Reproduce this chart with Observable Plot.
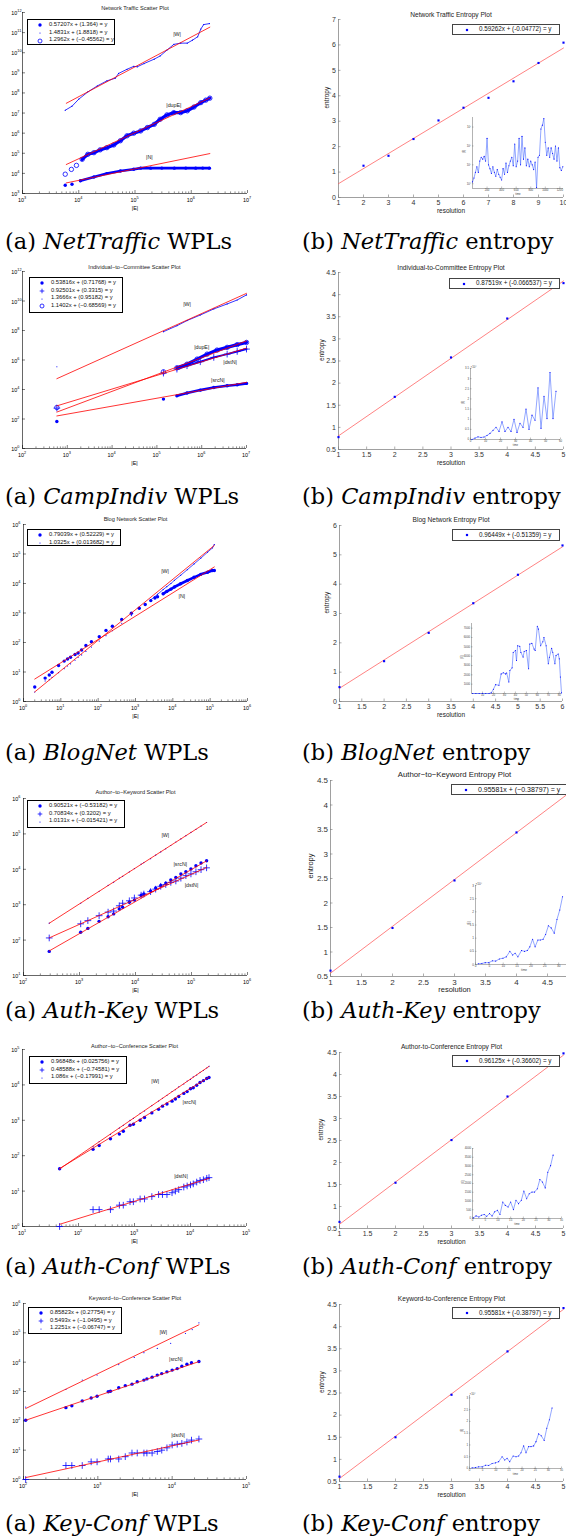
<!DOCTYPE html>
<html><head><meta charset="utf-8">
<script src="https://cdn.jsdelivr.net/npm/d3@7"></script>
<script src="https://cdn.jsdelivr.net/npm/@observablehq/plot@0.6"></script>
<style>
html,body{margin:0;padding:0;background:#fff;}
#root{position:relative;width:566px;height:1538px;overflow:hidden;font-family:"Liberation Sans",Arial,sans-serif;color:#000;background:#fff;}
.leg{position:absolute;background:#fff;box-sizing:border-box;}
.leg .row{position:absolute;white-space:nowrap;line-height:1;color:#111;}
.cap{position:absolute;font-family:"DejaVu Serif",serif;font-size:22.5px;white-space:nowrap;line-height:1;}
</style></head><body><div id="root"></div><script>
// ================= DATA =================
// ---- Row 1: NetTraffic ----
const ntW = [[5750,1.38e7],[7590,2.19e7],[1.0e4,4.9e7],[1.45e4,1.12e8],[2.14e4,2.24e8],[3.16e4,3.98e8],[4.47e4,5.4e8],[5.1e4,9.3e8],[7.2e4,1.5e9],[9.5e4,2.1e9],[1.1e5,2.0e9],[1.45e5,2.9e9],[2.2e5,4.8e9],[2.8e5,6.9e9],[3.7e5,1.35e10],[4.9e5,2.6e10],[6.5e5,3.0e10],[8.5e5,3.0e10],[1.05e6,4.2e10],[1.3e6,6.2e10],[1.48e6,1.5e11],[1.66e6,2.5e11],[2.1e6,2.8e11]];
const ntN = [[5750,2570],[7590,2880],[1.07e4,4270],[1.86e4,6610],[3.16e4,9770],[5.5e4,1.32e4],[9.5e4,1.62e4],[1.26e5,1.82e4],[1.9e5,1.82e4],[3.0e5,1.83e4],[5.0e5,1.82e4],[8.0e5,1.83e4],[1.2e6,1.82e4],[1.6e6,1.83e4],[2.1e6,1.82e4]];
const ntDupE = [[5750,9120],[7400,1.58e4],[9100,2.5e4],[1.15e4,5.0e4],[1.45e4,8.9e4],[1.86e4,1.07e5],[2.4e4,1.48e5],[3.16e4,1.9e5],[4.2e4,2.6e5],[5.5e4,4.2e5],[7.2e4,7.4e5],[9.5e4,1.0e6],[1.26e5,1.29e6],[1.66e5,1.9e6],[2.2e5,2.75e6],[2.8e5,4.9e6],[3.7e5,8.1e6],[4.9e5,1.05e7],[6.5e5,1.05e7],[8.5e5,1.29e7],[1.12e6,2.0e7],[1.48e6,3.3e7],[1.82e6,4.4e7],[2.14e6,5.5e7]];
const ntLabels = [[5.6e5,8.3e10,"|W|"],[4.9e5,2.45e7,"|dupE|"],[1.8e5,6.2e4,"|N|"]];
const ntFits = [[0.57207,1.364],[1.4831,1.8818],[1.2962,-0.45562]];
const ntFitRange = [6000,2.14e6];
const ntLegend = ["0.57207x + (1.364) = y","1.4831x + (1.8818) = y","1.2962x + (\u22120.45562) = y"];
const ntXTicks = [1e3,1e4,1e5,1e6,1e7];
const ntYTicks = [1e3,1e4,1e5,1e6,1e7,1e8,1e9,1e10,1e11,1e12];
const ntRes = [2,3,4,5,6,7,8,9,10];
const ntEnt = [1.25,1.64,2.30,3.03,3.53,3.92,4.57,5.29,6.09];
const ntEntFit = [0.59262,-0.04772];
const ntEntLegend = "0.59262x + (-0.04772) = y";
const ntEntXTicks = [1,2,3,4,5,6,7,8,9,10];
const ntEntYTicks = [0,1,2,3,4,5,6,7];
const ntInset = [1.26e4,2.0e4,4.0e4,7.9e4,4.0e4,1.58e5,2.5e5,2.0e5,2.8e5,1.58e5,2.5e6,1.0e5,6.3e4,3.5e4,7.9e4,4.0e4,2.5e4,5.6e4,3.2e4,2.2e4,1.58e4,6.3e4,3.2e4,1.26e5,4.0e4,8.9e4,1.58e5,2.5e5,8.9e4,1.26e6,7.9e4,1.58e5,2.5e6,1.0e5,3.2e6,2.0e5,7.9e5,8.9e4,2.0e5,7.9e4,1.58e5,1.0e5,5.6e4,1.41e5,6.3e3,2.5e5,3.2e5,7.9e6,1.26e7,2.8e7,1.58e6,3.2e5,7.9e5,2.5e5,7.9e5,4.0e5,2.0e5,1.0e6,1.58e5,7.9e5,7.1e4,5.0e4,7.9e4];
const ntInsetStep = 20;

// ---- Row 2: CampIndiv ----
const ciW = [[585,3.5e5],[1.4e5,8.3e7],[2.8e5,2.1e8],[4.7e5,4.7e8],[9.3e5,1.12e9],[1.86e6,2.9e9],[3.7e6,6.3e9],[6.2e6,1.17e10],[1.0e7,2.6e10]];
const ciDupE = [[585,600],[1.4e5,1.58e5],[2.8e5,2.95e5],[4.7e5,5.2e5],[7.9e5,1.15e6],[1.32e6,2.5e6],[2.2e6,4.7e6],[3.7e6,7.2e6],[6.2e6,1.1e7],[1.0e7,1.55e7]];
const ciDstN = [[585,550],[1.4e5,1.29e5],[2.8e5,2.4e5],[4.7e5,4.1e5],[9.3e5,7.6e5],[1.86e6,1.5e6],[3.7e6,2.5e6],[6.2e6,3.8e6],[1.0e7,5.5e6]];
const ciSrcN = [[585,68],[1.4e5,2240],[2.8e5,3700],[4.7e5,5750],[9.3e5,9100],[1.86e6,1.38e4],[3.7e6,1.78e4],[6.2e6,2.1e4],[1.0e7,2.6e4]];
const ciLabels = [[4.7e5,5.6e9,"|W|"],[1.0e6,7.6e6,"|dupE|"],[4.3e6,6.9e5,"|dstN|"],[2.3e6,4.4e4,"|srcN|"]];
const ciFits = [[0.53816,0.71768],[0.92501,0.3315],[1.3666,0.95182],[1.1402,-0.68569]];
const ciFitRange = [585,1.0e7];
const ciLegend = ["0.53816x + (0.71768) = y","0.92501x + (0.3315) = y","1.3666x + (0.95182) = y","1.1402x + (\u22120.68569) = y"];
const ciXTicks = [1e2,1e3,1e4,1e5,1e6,1e7];
const ciYTicks = [1e0,1e2,1e4,1e6,1e8,1e10,1e12];
const ciRes = [1,2,3,4,5];
const ciEnt = [0.78,1.69,2.58,3.46,4.26];
const ciEntFit = [0.87519,-0.066537];
const ciEntLegend = "0.87519x + (-0.066537) = y";
const halfTicks15 = [1,1.5,2,2.5,3,3.5,4,4.5,5];
const halfTicksY = [0.5,1,1.5,2,2.5,3,3.5,4,4.5];
const ciInset = [0,0.07,0.13,0.1,0.12,0.2,0.3,0.45,0.6,0.4,0.87,0.4,0.6,0.4,1.0,0.35,0.8,0.6,1.5,0.5,1.2,0.95,2.55,0.55,2.13,1.03,3.3,1.03,2.38];

// ---- Row 3: BlogNet ----
const bnN = [[2,3.1],[3.8,6.2],[4.9,7.9],[5.8,9.8],[8.7,16.6],[12.3,23.4],[15.1,27.5],[18.2,31.6],[24,39],[29,44],[36,56],[47,79],[66,107],[107,158],[162,257],[240,355],[427,603],[776,977],[1260,1450],[1820,1950],[2570,2630],[3310,3240],[3890,3550],[5500,4470],[6900,5400],[8900,6450],[1.1e4,7600],[1.62e4,9800],[2.45e4,1.26e4],[3.7e4,1.62e4],[5.6e4,2.04e4],[8.5e4,2.4e4],[1.15e5,2.75e4],[1.29e5,2.75e4]];
const bnW = [[2,2.1],[3.8,5.0],[4.9,5.5],[5.8,6.6],[8.7,9.5],[12.3,13],[15.1,16],[18.2,19],[24,25],[29,31],[36,38],[47,50],[66,70],[107,112],[162,170],[240,250],[427,450],[776,820],[1260,1350],[1820,1950],[2570,2800],[3310,3600],[3890,4300],[5500,6200],[6900,7800],[8900,1.0e4],[1.1e4,1.28e4],[1.62e4,1.9e4],[2.45e4,2.95e4],[3.7e4,4.6e4],[5.6e4,7.2e4],[8.5e4,1.15e5],[1.15e5,1.6e5],[1.29e5,2.1e5]];
const bnLabels = [[6200,2.6e4,"|W|"],[1.74e4,3630,"|N|"]];
const bnFits = [[0.79039,0.52229],[1.0325,0.013682]];
const bnFitRange = [2,1.29e5];
const bnLegend = ["0.79039x + (0.52229) = y","1.0325x + (0.013682) = y"];
const bnXTicks = [1e0,1e1,1e2,1e3,1e4,1e5,1e6];
const bnYTicks = [1e0,1e1,1e2,1e3,1e4,1e5,1e6];
const bnRes = [1,2,3,4,5,6];
const bnEnt = [0.49,1.375,2.34,3.35,4.32,5.32];
const bnEntFit = [0.96449,-0.51359];
const bnEntLegend = "0.96449x + (-0.51359) = y";
const bnEntXTicks = [1,1.5,2,2.5,3,3.5,4,4.5,5,5.5,6];
const bnEntYTicks = [0,1,2,3,4,5,6];
const bnInsetT = [1,4,7,10,13,16,18,20,22,25,27,29,31,32,34,35,37,38,40,41,42,44,45,47,48,50,52,53,55,57,58,60,61,63,65,66,68,70,71,73,74,76,77,79,80,81,82];
const bnInsetV = [0,0,0,0,0,0,70,460,950,880,2100,2220,2100,2200,1240,2470,2750,4400,4600,3530,5120,5050,4400,3900,4500,4600,2650,5300,5370,4770,4600,7200,6900,5120,5550,6000,5120,3180,3890,4840,4420,3180,4060,4240,3710,1770,70];

// ---- Row 4: Auth-Key ----
const akX = [288,1050,1410,2240,3240,4070,5130,5890,7760,9550,1.26e4,1.41e4,1.86e4,2.29e4,2.82e4,3.47e4,4.27e4,5.25e4,6.46e4,7.94e4,9.77e4,1.2e5,1.48e5,1.86e5];
const akSrcN = [48,166,214,339,457,550,759,851,1175,1350,1820,2000,2450,2950,3470,4070,5010,5890,7410,8510,1.02e4,1.26e4,1.51e4,1.74e4];
const akDstN = [115,288,355,490,617,661,933,1100,1290,1550,1860,2000,2340,2750,3310,3720,4270,4680,5620,6610,7410,8510,9770,1.1e4];
const akW = [300,1100,1500,2400,3500,4300,5600,6300,8500,1.05e4,1.4e4,1.55e4,2.0e4,2.5e4,3.1e4,3.8e4,4.7e4,5.9e4,7.2e4,8.9e4,1.1e5,1.35e5,1.66e5,2.1e5];
const akLabels = [[3.4e4,9.3e4,"|W|"],[6.3e4,1.41e4,"|srcN|"],[1.0e5,3470,"|dstN|"]];
const akFits = [[0.90521,-0.53182],[0.70834,0.3202],[1.0131,-0.015421]];
const akFitRange = [288,1.86e5];
const akLegend = ["0.90521x + (\u22120.53182) = y","0.70834x + (0.3202) = y","1.0131x + (\u22120.015421) = y"];
const akXTicks = [1e2,1e3,1e4,1e5,1e6];
const akYTicks = [1e1,1e2,1e3,1e4,1e5,1e6];
const akRes = [1,2,3,4,5];
const akEnt = [0.62,1.49,2.46,3.44,4.42];
const akEntFit = [0.95581,-0.38797];
const akEntLegend = "0.95581x + (\u22120.38797) = y";
const akEntXTicks = [1,1.5,2,2.5,3,3.5,4,4.5];
const akInsetXTicks = [0,5,10,15,20,25,30];
const akInsetT = [1,2.3,3.5,4.8,6.1,7.3,8.6,9.9,11.1,12.4,13.4,14.3,15.3,16.6,17.7,18.7,19.6,20.6,21.5,22.5,23.4,24.4,25.3,26.3,27.3,28.4,29.4,30.4,31.4];
const akInsetV = [0.03,0.04,0.07,0.07,0.14,0.13,0.21,0.24,0.29,0.5,0.36,0.43,0.29,0.53,0.5,0.53,0.67,0.96,0.67,0.93,0.93,0.96,1.14,1.47,1.39,1.19,1.71,2.07,2.57];

// ---- Row 5: Auth-Conf ----
const acX = [46,182,234,372,537,631,832,955,1260,1510,2040,2690,3160,3800,4680,5370,6170,7590,8710,1.0e4,1.12e4,1.29e4,1.48e4,1.7e4,1.95e4,2.14e4];
const acSrcN = [43,151,195,302,407,490,724,776,1000,1200,1620,2040,2510,2880,3470,3980,4680,5750,6460,7760,8320,9770,1.17e4,1.32e4,1.51e4,1.62e4];
const acDstN = [1,3,3,3,4,4,5,5,6,6,7,8,8,8,9,10,11,13,14,15,16,18,20,21,23,24];
const acW = [44,180,250,400,610,720,990,1130,1570,1830,2600,3500,4200,5100,6500,7300,8800,1.06e4,1.28e4,1.43e4,1.68e4,1.9e4,2.26e4,2.55e4,3.0e4,3.35e4];
const acLabels = [[2340,1.26e4,"|W|"],[9550,3160,"|srcN|"],[6760,26,"|dstN|"]];
const acFits = [[0.96848,0.025756],[0.48588,-0.74581],[1.086,-0.17991]];
const acFitRange = [46,2.14e4];
const acLegend = ["0.96848x + (0.025756) = y","0.48588x + (\u22120.74581) = y","1.086x + (\u22120.17991) = y"];
const acXTicks = [1e1,1e2,1e3,1e4,1e5];
const acYTicks = [1e0,1e1,1e2,1e3,1e4,1e5];
const acRes = [1,2,3,4,5];
const acEnt = [0.65,1.54,2.51,3.5,4.48];
const acEntFit = [0.96125,-0.36602];
const acEntLegend = "0.96125x + (-0.36602) = y";
const acInsetT = [0.4,1.4,2.5,3.5,4.6,5.6,6.7,7.7,8.7,9.8,10.8,11.9,12.9,14.0,15.0,16.1,17.1,18.1,19.2,20.2,21.3,22.3,23.4,24.4,25.5,26.5,27.5,28.6,29.6,30.7,31.7];
const acInsetV = [40,150,90,190,230,130,280,150,380,470,230,940,750,660,940,510,1040,850,1040,1570,1130,1415,1510,1510,1700,2230,2080,1750,2640,3020,3620];

// ---- Row 6: Key-Conf ----
const kcX = [107,372,447,617,813,977,1380,1480,1910,2340,2880,3390,4170,4570,5370,6310,7240,8510,1.0e4,1.17e4,1.35e4,1.58e4,1.82e4,2.29e4];
const kcSrcN = [105,282,324,479,603,692,977,1020,1350,1580,1780,2140,2450,2690,3090,3630,4070,4680,5370,6030,7240,8510,9550,1.05e4];
const kcDstN = [1,3,3,3,4,4,5,5,5,6,8,8,8,8,8,9,10,12,15,16,17,19,22,24];
const kcWX = [107,372,617,977,1910,3090,4170,6310,9550,1.51e4,1.86e4,2.29e4];
const kcW = [295,1170,2450,3630,8300,1.45e4,2.1e4,2.95e4,4.4e4,9.5e4,1.29e5,2.2e5];
const kcLabels = [[7590,1.07e5,"|W|"],[1.12e4,1.26e4,"|srcN|"],[1.2e4,32,"|dstN|"]];
const kcFits = [[0.85823,0.27754],[0.5493,-1.0495],[1.2251,-0.06747]];
const kcFitRange = [107,2.29e4];
const kcLegend = ["0.85823x + (0.27754) = y","0.5493x + (\u22121.0495) = y","1.2251x + (\u22120.06747) = y"];
const kcXTicks = [1e2,1e3,1e4,1e5];
const kcYTicks = [1e0,1e1,1e2,1e3,1e4,1e5,1e6];
const kcRes = [1,2,3,4,5];
const kcEnt = [0.61,1.50,2.46,3.44,4.42];
const kcEntFit = [0.95581,-0.38797];
const kcEntLegend = "0.95581x + (-0.38797) = y";
const kcInsetT = [1,2.3,3.5,4.8,6.1,7.3,8.6,9.9,11.1,12.4,13.4,14.3,15.3,16.6,17.7,18.7,19.6,20.6,21.5,22.5,23.4,24.4,25.3,26.3,27.3,28.4,29.4,30.4,31.4];
const kcInsetV = [0.03,0.04,0.07,0.07,0.14,0.13,0.21,0.24,0.29,0.5,0.36,0.43,0.29,0.53,0.5,0.53,0.67,0.96,0.67,0.93,0.93,0.96,1.14,1.47,1.39,1.19,1.71,2.07,2.57];

const capNames = ["NetTraffic","CampIndiv","BlogNet","Auth-Key","Auth-Conf","Key-Conf"];

// ================= DRAWING =================
const B = "#0000ff", R = "#ff0000";
const root = document.getElementById("root");
const STYLE = {background: "transparent", fontFamily: "'Liberation Sans', Arial, sans-serif", overflow: "visible", color: "#000"};
const X = d => d[0], Y = d => d[1];
const zip = (xs, ys) => xs.map((x, i) => [x, ys[i]]);
const expOf = d => String(Math.round(Math.log10(d)));
const SUPC = {"0":"\u2070","1":"\u00b9","2":"\u00b2","3":"\u00b3","4":"\u2074","5":"\u2075","6":"\u2076","7":"\u2077","8":"\u2078","9":"\u2079"};
const supPow = d => "10" + expOf(d).split("").map(c => SUPC[c]).join("");
function place(el, x, y) { el.style.position = "absolute"; el.style.left = x + "px"; el.style.top = y + "px"; root.appendChild(el); }
function minorTicks([a, b]) { const out = []; for (let e = Math.round(Math.log10(a)); e < Math.round(Math.log10(b)); e++) for (let k = 2; k <= 9; k++) out.push(k * Math.pow(10, e)); return out; }

function seriesMark(kind, data) {
  const o = {x: X, y: Y};
  if (kind === "dot") return Plot.dot(data, {...o, r: 1.7, fill: B});
  if (kind === "point") return Plot.dot(data, {...o, r: 0.6, fill: B});
  if (kind === "circle") return Plot.dot(data, {...o, r: 2.2, stroke: B, fill: "none", strokeWidth: 0.8});
  return Plot.dot(data, {...o, r: 2.3, symbol: "plus", stroke: B, strokeWidth: 0.8});
}

function scatter(c) {
  const mL = c.fx0, mR = 283 - c.fx1, mT = 14, mB = 22;
  const fw = c.fx1 - c.fx0, fh = c.fy1 - c.fy0;
  const marks = [
    Plot.ruleX([c.xDomain[0]], {stroke: "#000", strokeWidth: 0.6}),
    Plot.ruleY([c.yDomain[0]], {stroke: "#000", strokeWidth: 0.6}),
    Plot.tickX(minorTicks(c.xDomain), {x: d => d, insetTop: fh - 1.6, strokeWidth: 0.45}),
    Plot.tickX(c.xTicks, {x: d => d, insetTop: fh - 3, strokeWidth: 0.5}),
    Plot.tickY(c.yTicks, {y: d => d, insetRight: fw - 3, strokeWidth: 0.5}),
    Plot.text(c.xTicks, {x: d => d, frameAnchor: "bottom", dy: 8, dx: 1.5, textAnchor: "end", text: () => "10", fontSize: 5.4}),
    Plot.text(c.xTicks, {x: d => d, frameAnchor: "bottom", dy: 5.6, dx: 1.5, textAnchor: "start", text: expOf, fontSize: 3.8}),
    Plot.text(c.yTicks, {y: d => d, frameAnchor: "left", dx: -5.2, dy: 0.8, textAnchor: "end", text: () => "10", fontSize: 5.4}),
    Plot.text(c.yTicks, {y: d => d, frameAnchor: "left", dx: -5.2, dy: -1.7, textAnchor: "start", text: expOf, fontSize: 3.8})
  ];
  for (const s of c.series) if (s.lw) marks.push(Plot.line(s.data.slice(s.from || 0), {x: X, y: Y, stroke: B, strokeWidth: s.lw, strokeLinejoin: "round", strokeLinecap: "round"}));
  for (const s of c.series) marks.push(seriesMark(s.kind, s.data));
  for (const [a, b] of c.fits) marks.push(Plot.line(c.fitRange.map(x => [x, Math.pow(10, b + a * Math.log10(x))]), {x: X, y: Y, stroke: R, strokeWidth: 0.8}));
  marks.push(Plot.text(c.labels, {x: X, y: Y, text: d => d[2], fontSize: 5.3, fill: "#222"}));
  marks.push(Plot.text([c.title], {frameAnchor: "top", dy: -c.titleDy, text: d => d, fontSize: 5.6, fill: "#222"}));
  marks.push(Plot.text(["|E|"], {frameAnchor: "bottom", dy: 16, text: d => d, fontSize: 5.4}));
  const svg = Plot.plot({width: 283, height: fh + mT + mB, marginLeft: mL, marginRight: mR, marginTop: mT, marginBottom: mB,
    x: {type: "log", domain: c.xDomain, axis: null}, y: {type: "log", domain: c.yDomain, axis: null}, style: STYLE, marks});
  place(svg, 0, c.fy0 - mT);
}

function entropy(c) {
  const mL = c.fx0 - 283, mR = 3, mT = 20, mB = 24;
  const fw = c.fx1 - c.fx0, fh = c.fy1 - c.fy0;
  const fs = c.fs || 7;
  const pts = zip(c.res, c.ent);
  const [a, b] = c.fit;
  const fitPts = c.xDomain.map(x => [x, a * x + b]);
  const marks = [
    Plot.ruleX([c.xDomain[0]], {stroke: "#777", strokeWidth: 0.7}),
    Plot.ruleY([c.yDomain[0]], {stroke: "#777", strokeWidth: 0.7}),
    Plot.tickX(c.xTicks, {x: d => d, insetTop: fh - 2.5, stroke: "#777", strokeWidth: 0.6}),
    Plot.tickY(c.yTicks, {y: d => d, insetRight: fw - 2.5, stroke: "#777", strokeWidth: 0.6}),
    Plot.axisX(c.xTicks, {tickSize: 0, tickPadding: 2.5, fontSize: fs, tickFormat: d => String(d), label: null, fill: "#333"}),
    Plot.axisY(c.yTicks, {tickSize: 0, tickPadding: 2.5, fontSize: fs, tickFormat: d => String(d), label: null, fill: "#333"}),
    Plot.line(fitPts, {x: X, y: Y, stroke: "#ff4d4d", strokeWidth: 0.7}),
    Plot.dot(pts, {x: X, y: Y, symbol: "square", r: 1.2, fill: B}),
    Plot.text([c.title], {frameAnchor: "top", dy: -c.titleDy, text: d => d, fontSize: c.tfs || 6.6, fill: "#222"}),
    Plot.text(["entropy"], {frameAnchor: "left", dx: c.yLabDx, rotate: -90, text: d => d, fontSize: c.lfs || 6.5, fill: "#222"}),
    Plot.text(["resolution"], {frameAnchor: "bottom", dy: 15, text: d => d, fontSize: c.lfs || 6.5, fill: "#222"})
  ];
  const svg = Plot.plot({width: c.fx1 - 283 + mR, height: fh + mT + mB, marginLeft: mL, marginRight: mR, marginTop: mT, marginBottom: mB,
    x: {domain: c.xDomain}, y: {domain: c.yDomain}, style: STYLE, marks});
  place(svg, 283, c.fy0 - mT);
}

function inset(c) {
  const mL = 10, mR = 2, mT = 5, mB = 9;
  const fw = c.fx1 - c.fx0, fh = c.fy1 - c.fy0;
  const fs = c.fs || 2.8;
  const marks = [
    Plot.ruleX([c.xDomain[0]], {stroke: "#666", strokeWidth: 0.5}),
    Plot.ruleY([c.yDomain[0]], {stroke: "#666", strokeWidth: 0.5}),
    Plot.tickX(c.xTicks, {x: d => d, insetTop: fh - 1.5, stroke: "#666", strokeWidth: 0.4}),
    Plot.tickY(c.yTicks, {y: d => d, insetRight: fw - 1.5, stroke: "#666", strokeWidth: 0.4}),
    Plot.text(c.xTicks, {x: d => d, frameAnchor: "bottom", dy: fs * 0.9, text: c.xFmt || (d => String(d)), fontSize: fs, fill: "#444"}),
    Plot.text(c.yTicks, {y: d => d, frameAnchor: "left", dx: -1.5, textAnchor: "end", text: c.yFmt || (d => String(d)), fontSize: fs, fill: "#444"}),
    Plot.text(["time"], {frameAnchor: "bottom", dy: fs * 2.2, text: d => d, fontSize: fs, fill: "#444"}),
    Plot.text(["|E|"], {frameAnchor: "left", dx: -c.yLabDx, rotate: -90, text: d => d, fontSize: fs, fill: "#444"}),
    Plot.line(c.data, {x: X, y: Y, stroke: "#4a6cff", strokeWidth: 0.6}),
    Plot.dot(c.data, {x: X, y: Y, r: 0.55, fill: B})
  ];
  if (c.mult) marks.push(Plot.text([c.mult], {frameAnchor: "top-left", dy: -2.5, textAnchor: "start", text: d => d, fontSize: fs, fill: "#444"}));
  const svg = Plot.plot({width: fw + mL + mR, height: fh + mT + mB, marginLeft: mL, marginRight: mR, marginTop: mT, marginBottom: mB,
    x: {domain: c.xDomain, axis: null}, y: {type: c.yType || "linear", domain: c.yDomain, axis: null}, style: STYLE, marks});
  place(svg, c.fx0 - mL, c.fy0 - mT);
}

function legSym(kind) {
  const s = {
    dot: '<circle cx="0" cy="0" r="1.7" fill="#00f"/>',
    point: '<circle cx="0" cy="0" r="0.6" fill="#00f"/>',
    circle: '<circle cx="0" cy="0" r="2" fill="none" stroke="#00f" stroke-width="0.8"/>',
    plus: '<path d="M0 -2.3V2.3M-2.3 0H2.3" stroke="#00f" stroke-width="0.8"/>',
    sq: '<rect x="-1.1" y="-1.1" width="2.2" height="2.2" fill="#00f"/>'
  }[kind];
  return '<svg width="1" height="1" style="position:absolute;left:0;top:0;overflow:visible">' + s + '</svg>';
}
function legend(x, y, w, h, border, kinds, texts, fs, symX, textX, firstY, pitch) {
  const d = document.createElement("div");
  d.className = "leg";
  d.style.cssText = `left:${x}px;top:${y}px;width:${w}px;height:${h}px;border:${border};`;
  texts.forEach((t, i) => {
    const cy = firstY + i * pitch;
    const s = document.createElement("div");
    s.style.cssText = `position:absolute;left:${symX}px;top:${cy}px;width:1px;height:1px;`;
    s.innerHTML = legSym(kinds[i]);
    d.appendChild(s);
    const r = document.createElement("div");
    r.className = "row";
    r.style.cssText = `left:${textX}px;top:${cy - fs * 0.55}px;font-size:${fs}px;`;
    r.textContent = t;
    d.appendChild(r);
  });
  root.appendChild(d);
}
function scatterLegend(x, y, w, h, kinds, texts) { legend(x, y, w, h, "1.3px solid #000", kinds, texts, 5.8, 12, 21, 5.2, 7.7); }
function entLegend(x, y, w, h, text, fs) { legend(x, y, w, h, "0.8px solid #444", ["sq"], [text], fs || 6.3, 14, 26, h / 2 - 0.8, 0); }

// ---- Row 1 ----
scatter({fx0: 22, fx1: 247, fy0: 12, fy1: 193, xDomain: [1e3, 1e7], yDomain: [1e3, 1e12], xTicks: ntXTicks, yTicks: ntYTicks,
  title: "Network Traffic Scatter Plot", titleDy: 6, fits: ntFits, fitRange: ntFitRange, labels: ntLabels,
  series: [{kind: "point", data: ntW, lw: 0.8}, {kind: "circle", data: ntDupE, lw: 3.2, from: 3}, {kind: "dot", data: ntN, lw: 2.6, from: 2}]});
entropy({fx0: 338, fx1: 563, fy0: 19, fy1: 197, xDomain: [1, 10], yDomain: [0, 7], xTicks: ntEntXTicks, yTicks: ntEntYTicks,
  res: ntRes, ent: ntEnt, fit: ntEntFit, title: "Network Traffic Entropy Plot", titleDy: 7, yLabDx: -12});
inset({fx0: 472, fx1: 563, fy0: 117, fy1: 188, xDomain: [0, 1250], yDomain: [5600, 3.2e7], yType: "log",
  xTicks: [200, 400, 600, 800, 1000, 1200], yTicks: [1e4, 1e5, 1e6, 1e7], yFmt: supPow, yLabDx: 8,
  data: ntInset.map((v, i) => [i * ntInsetStep, v])});
scatterLegend(27, 19, 88, 26, ["dot", "point", "circle"], ntLegend);
entLegend(452, 24, 108, 11, ntEntLegend);

// ---- Row 2 ----
scatter({fx0: 22, fx1: 246, fy0: 271, fy1: 448, xDomain: [1e2, 1e7], yDomain: [1e0, 1e12], xTicks: ciXTicks, yTicks: ciYTicks,
  title: "Individual\u2212to\u2212Committee Scatter Plot", titleDy: 6, fits: ciFits, fitRange: ciFitRange, labels: ciLabels,
  series: [{kind: "point", data: ciW, lw: 0.8, from: 1}, {kind: "circle", data: ciDupE, lw: 3.2, from: 2}, {kind: "plus", data: ciDstN, lw: 2, from: 2}, {kind: "dot", data: ciSrcN, lw: 2.6, from: 2}]});
entropy({fx0: 338, fx1: 563, fy0: 272, fy1: 449, xDomain: [1, 5], yDomain: [0.5, 4.5], xTicks: halfTicks15, yTicks: halfTicksY,
  res: ciRes, ent: ciEnt, fit: ciEntFit, title: "Individual-to-Committee Entropy Plot", titleDy: 7, yLabDx: -17});
inset({fx0: 470, fx1: 560, fy0: 368, fy1: 439, xDomain: [0, 60], yDomain: [0, 3.5],
  xTicks: [0, 10, 20, 30, 40, 50, 60], yTicks: [0, 0.5, 1, 1.5, 2, 2.5, 3, 3.5], yLabDx: 7, mult: "\u00d710\u2074",
  data: ciInset.map((v, i) => [1 + 2 * i, v])});
scatterLegend(29, 277, 94, 36, ["dot", "plus", "point", "circle"], ciLegend);
entLegend(449, 278, 111, 11, ciEntLegend);

// ---- Row 3 ----
scatter({fx0: 23, fx1: 247, fy0: 524, fy1: 701, xDomain: [1e0, 1e6], yDomain: [1e0, 1e6], xTicks: bnXTicks, yTicks: bnYTicks,
  title: "Blog Network Scatter Plot", titleDy: 7, fits: bnFits, fitRange: bnFitRange, labels: bnLabels,
  series: [{kind: "point", data: bnW, lw: 0.7, from: 20}, {kind: "dot", data: bnN, lw: 2.6, from: 23}]});
entropy({fx0: 339, fx1: 562, fy0: 525, fy1: 701, xDomain: [1, 6], yDomain: [0, 6], xTicks: bnEntXTicks, yTicks: bnEntYTicks,
  res: bnRes, ent: bnEnt, fit: bnEntFit, title: "Blog Network Entropy Plot", titleDy: 8, yLabDx: -13});
inset({fx0: 471, fx1: 561, fy0: 623, fy1: 693, xDomain: [0, 82], yDomain: [0, 7500],
  xTicks: [10, 20, 30, 40, 50, 60, 70, 80], yTicks: [1000, 2000, 3000, 4000, 5000, 6000, 7000], yLabDx: 9,
  data: zip(bnInsetT, bnInsetV)});
scatterLegend(27, 529, 94, 17, ["dot", "point"], bnLegend);
entLegend(452, 529, 108, 12, bnEntLegend);

// ---- Row 4 ----
scatter({fx0: 23, fx1: 247, fy0: 798, fy1: 975, xDomain: [1e2, 1e6], yDomain: [1e1, 1e6], xTicks: akXTicks, yTicks: akYTicks,
  title: "Author\u2212to\u2212Keyword Scatter Plot", titleDy: 8, fits: akFits, fitRange: akFitRange, labels: akLabels,
  series: [{kind: "dot", data: zip(akX, akSrcN)}, {kind: "plus", data: zip(akX, akDstN)}, {kind: "point", data: zip(akX, akW)}]});
entropy({fx0: 330, fx1: 578, fy0: 780, fy1: 976, xDomain: [1, 5], yDomain: [0.5, 4.5], xTicks: akEntXTicks, yTicks: halfTicksY,
  res: akRes, ent: akEnt, fit: akEntFit, title: "Author\u2212to\u2212Keyword Entropy Plot", titleDy: 9, yLabDx: -20, fs: 8, tfs: 7.8, lfs: 7.5});
inset({fx0: 475, fx1: 572, fy0: 885, fy1: 964, xDomain: [0, 35], yDomain: [0, 3], fs: 3.1,
  xTicks: akInsetXTicks, yTicks: [0, 0.5, 1, 1.5, 2, 2.5, 3], yLabDx: 7, mult: "\u00d710\u2074",
  data: zip(akInsetT, akInsetV)});
scatterLegend(27, 800, 98, 28, ["dot", "plus", "point"], akLegend);
entLegend(451, 784, 125, 11, akEntLegend, 7);

// ---- Row 5 ----
scatter({fx0: 22, fx1: 246, fy0: 1049, fy1: 1226, xDomain: [1e1, 1e5], yDomain: [1e0, 1e5], xTicks: acXTicks, yTicks: acYTicks,
  title: "Author\u2212to\u2212Conference Scatter Plot", titleDy: 5, fits: acFits, fitRange: acFitRange, labels: acLabels,
  series: [{kind: "dot", data: zip(acX, acSrcN)}, {kind: "plus", data: zip(acX, acDstN)}, {kind: "point", data: zip(acX, acW)}]});
entropy({fx0: 339, fx1: 563, fy0: 1052, fy1: 1228, xDomain: [1, 5], yDomain: [0.5, 4.5], xTicks: halfTicks15, yTicks: halfTicksY,
  res: acRes, ent: acEnt, fit: acEntFit, title: "Author-to-Conference Entropy Plot", titleDy: 8, yLabDx: -19});
inset({fx0: 472, fx1: 561, fy0: 1148, fy1: 1218, xDomain: [0, 35], yDomain: [0, 4000],
  xTicks: [0, 5, 10, 15, 20, 25, 30, 35], yTicks: [0, 500, 1000, 1500, 2000, 2500, 3000, 3500, 4000], yLabDx: 9,
  data: zip(acInsetT, acInsetV)});
scatterLegend(29, 1056, 98, 28, ["dot", "plus", "point"], acLegend);
entLegend(452, 1055, 108, 12, acEntLegend);

// ---- Row 6 ----
scatter({fx0: 23, fx1: 246, fy0: 1303, fy1: 1479, xDomain: [1e2, 1e5], yDomain: [1e0, 1e6], xTicks: kcXTicks, yTicks: kcYTicks,
  title: "Keyword\u2212to\u2212Conference Scatter Plot", titleDy: 7, fits: kcFits, fitRange: kcFitRange, labels: kcLabels,
  series: [{kind: "dot", data: zip(kcX, kcSrcN)}, {kind: "plus", data: zip(kcX, kcDstN)}, {kind: "point", data: zip(kcWX, kcW)}]});
entropy({fx0: 339, fx1: 563, fy0: 1304, fy1: 1481, xDomain: [1, 5], yDomain: [0.5, 4.5], xTicks: halfTicks15, yTicks: halfTicksY,
  res: kcRes, ent: kcEnt, fit: kcEntFit, title: "Keyword-to-Conference Entropy Plot", titleDy: 8, yLabDx: -18});
inset({fx0: 469, fx1: 561, fy0: 1395, fy1: 1468, xDomain: [0, 35], yDomain: [0, 3.1],
  xTicks: [0, 5, 10, 15, 20, 25, 30, 35], yTicks: [0, 0.5, 1, 1.5, 2, 2.5, 3], yLabDx: 7, mult: "\u00d710\u2074",
  data: zip(kcInsetT, kcInsetV)});
scatterLegend(28, 1307, 94, 27, ["dot", "plus", "point"], kcLegend);
entLegend(452, 1307, 108, 12, kcEntLegend);

// ---- Captions ----
const capY = [241, 496, 752, 1010, 1266, 1523];
capNames.forEach((n, i) => {
  const a = document.createElement("div");
  a.className = "cap"; a.innerHTML = "(a) <i>" + n + "</i> WPLs";
  place(a, 5, capY[i] - 11);
  const b = document.createElement("div");
  b.className = "cap"; b.innerHTML = "(b) <i>" + n + "</i> entropy";
  place(b, 302, capY[i] - 11);
});
</script></body></html>
